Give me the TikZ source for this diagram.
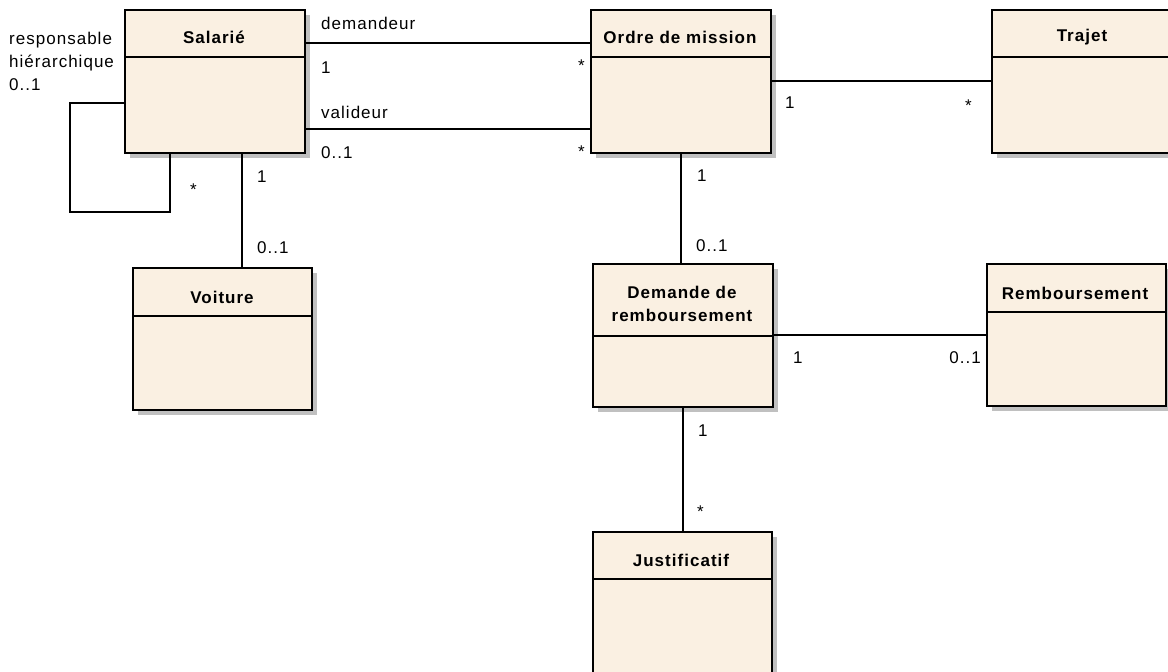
\documentclass[tikz,border=0pt]{standalone}
\usepackage{fontspec}
\setmainfont[LetterSpace=6]{Liberation Sans}
\usetikzlibrary{shadows}
\definecolor{boxfill}{HTML}{FAF0E2}
\definecolor{shadowgray}{HTML}{C0C0C0}
\tikzset{
  cls/.style={draw=black, line width=1.6pt, fill=boxfill, anchor=north west, inner sep=0pt,
    drop shadow={shadow xshift=5pt, shadow yshift=-5pt, fill=shadowgray, opacity=1}},
  ttl/.style={font=\fontsize{17}{23}\selectfont\bfseries, align=center, inner sep=0pt},
  lbl/.style={font=\fontsize{17}{23}\selectfont, inner sep=0pt, anchor=base west},
  lble/.style={font=\fontsize{17}{23}\selectfont, inner sep=0pt, anchor=base east},
  conn/.style={line width=1.6pt},
  hdr/.style={line width=1.6pt}
}
\begin{document}
\begin{tikzpicture}[x=1pt,y=-1pt]
\useasboundingbox (0,0) rectangle (1168,672);
% classes
\node[cls, minimum width=180pt, minimum height=143pt] (sal) at (124,9) {};
\node[cls, minimum width=180pt, minimum height=143pt] (ord) at (590,9) {};
\node[cls, minimum width=180pt, minimum height=143pt] (tra) at (991,9) {};
\node[cls, minimum width=179pt, minimum height=142pt] (voi) at (132,267) {};
\node[cls, minimum width=180pt, minimum height=143pt] (dem) at (592,263) {};
\node[cls, minimum width=179pt, minimum height=142pt] (rem) at (986,263) {};
\node[cls, minimum width=179pt, minimum height=143pt] (jus) at (592,531) {};
% header separators
\draw[hdr] ([yshift=-48pt]sal.north west) -- ([yshift=-48pt]sal.north east);
\draw[hdr] ([yshift=-48pt]ord.north west) -- ([yshift=-48pt]ord.north east);
\draw[hdr] ([yshift=-48pt]tra.north west) -- ([yshift=-48pt]tra.north east);
\draw[hdr] ([yshift=-49pt]voi.north west) -- ([yshift=-49pt]voi.north east);
\draw[hdr] ([yshift=-73pt]dem.north west) -- ([yshift=-73pt]dem.north east);
\draw[hdr] ([yshift=-49pt]rem.north west) -- ([yshift=-49pt]rem.north east);
\draw[hdr] ([yshift=-48pt]jus.north west) -- ([yshift=-48pt]jus.north east);
% titles
\node[ttl] (salT) at (214,37) {Salarié};
\node[ttl] (ordT) at (680,37) {Ordre de mission};
\node[ttl] (traT) at (1082,37) {Trajet};
\node[ttl] (voiT) at (222,297) {Voiture};
\node[ttl] (demT) at (682,304) {Demande de\\remboursement};
\node[ttl] (remT) at (1075,293) {Remboursement};
\node[ttl] (jusT) at (681,560) {Justificatif};
% connectors
\draw[conn] (sal.east |- 0,43) -- (ord.west |- 0,43);
\draw[conn] (sal.east |- 0,129) -- (ord.west |- 0,129);
\draw[conn] (ord.east |- 0,81) -- (tra.west |- 0,81);
\draw[conn] (ord.south) -- (ord.south |- dem.north);
\draw[conn] (dem.east |- 0,335) -- (rem.west |- 0,335);
\draw[conn] (dem.south) -- (dem.south |- jus.north);
\draw[conn] (sal.south -| 242,0) -- (voi.north -| 242,0);
\draw[conn] (sal.west |- 0,103) -| (70,212) -| (sal.south -| 170,0);
% labels
\node[lbl] (l1) at (321,29) {demandeur};
\node[lbl] (l2) at (321,73) {1};
\node[lbl] (l3) at (578,71) {*};
\node[lbl] (l4) at (321,118) {valideur};
\node[lbl] (l5) at (321,158) {0..1};
\node[lbl] (l6) at (578,157) {*};
\node[lbl] (l7) at (785,108) {1};
\node[lbl] (l8) at (965,111) {*};
\node[lbl] (l9) at (697,181) {1};
\node[lbl] (l10) at (696,251) {0..1};
\node[lbl] (l11) at (793,363) {1};
\node[lble] (l12) at (981,363) {0..1};
\node[lbl] (l13) at (698,436) {1};
\node[lbl] (l14) at (697,517) {*};
\node[lbl] (l15) at (257,182) {1};
\node[lbl] (l16) at (257,253) {0..1};
\node[lbl] (l17) at (190,195) {*};
\node[lbl] (l18a) at (9,44) {responsable};
\node[lbl] (l18b) at (9,67) {hiérarchique};
\node[lbl] (l18c) at (9,90) {0..1};
\end{tikzpicture}
\end{document}
